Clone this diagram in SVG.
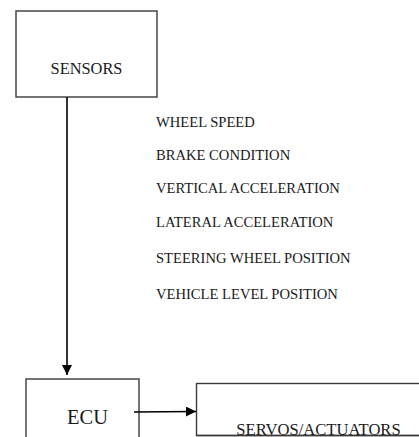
<svg xmlns="http://www.w3.org/2000/svg" width="419" height="437" viewBox="0 0 419 437">
  <style>
    .box { fill: #ffffff; stroke: #3a3a3a; stroke-width: 1.4; }
    .lbl { font-family: "Liberation Serif", "Times New Roman", serif; fill: #1a1a1a; }
    .item { font-family: "Liberation Serif", "Times New Roman", serif; font-size: 14.6px; fill: #1a1a1a; }
    .conn { stroke: #000000; stroke-width: 1.6; fill: none; }
  </style>
  <defs>
    <marker id="arrow" viewBox="0 0 10 10" refX="10" refY="5" markerWidth="10" markerHeight="10" markerUnits="userSpaceOnUse" orient="auto">
      <path d="M0,0 L10,5 L0,10 Z" fill="#000000"/>
    </marker>
  </defs>
  <rect width="419" height="437" fill="#ffffff"/>

  <g id="sensors">
    <rect class="box" x="16" y="11" width="141" height="86"/>
    <text class="lbl" x="86.5" y="74" font-size="16.4" text-anchor="middle">SENSORS</text>
  </g>

  <g id="sensor-list">
    <text class="item" x="156" y="127">WHEEL SPEED</text>
    <text class="item" x="156" y="160">BRAKE CONDITION</text>
    <text class="item" x="156" y="193">VERTICAL ACCELERATION</text>
    <text class="item" x="156" y="227">LATERAL ACCELERATION</text>
    <text class="item" x="156" y="263">STEERING WHEEL POSITION</text>
    <text class="item" x="156" y="299">VEHICLE LEVEL POSITION</text>
  </g>

  <g id="ecu">
    <rect class="box" x="26" y="379" width="113" height="70"/>
    <text class="lbl" x="87.5" y="424" font-size="20.5" text-anchor="middle">ECU</text>
  </g>

  <g id="servos">
    <rect class="box" x="196.5" y="383.5" width="240" height="52"/>
    <text class="lbl" x="318.5" y="434.5" font-size="16.6" text-anchor="middle">SERVOS/ACTUATORS</text>
    <line x1="196.5" y1="435.5" x2="419" y2="435.5" stroke="#3a3a3a" stroke-width="1.4"/>
  </g>

  <g id="connectors">
    <line class="conn" x1="67" y1="97" x2="67" y2="375" marker-end="url(#arrow)"/>
    <line class="conn" x1="134" y1="412" x2="196" y2="411.5" marker-end="url(#arrow)"/>
  </g>
</svg>
